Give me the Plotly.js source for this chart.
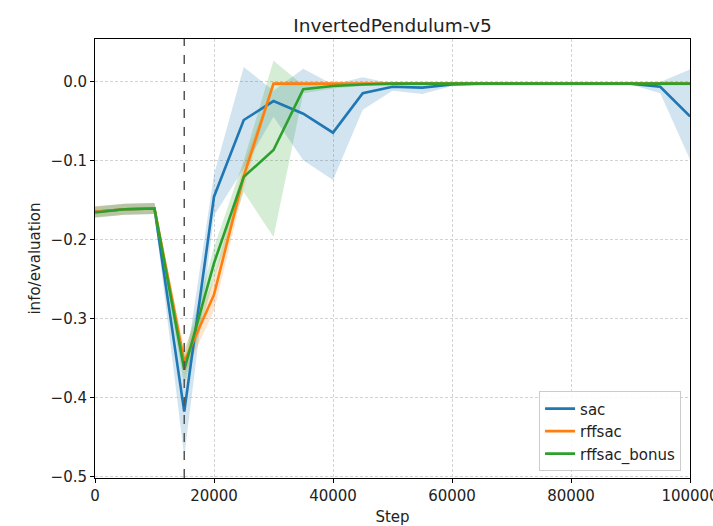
<!DOCTYPE html>
<html>
<head>
<meta charset="utf-8">
<script src="https://cdn.plot.ly/plotly-3.0.1.min.js"></script>
<style>html,body{margin:0;padding:0;background:#fff;}#chart{width:713px;height:526px;}</style>
</head>
<body>
<div id="chart"></div>
<script>
const steps = [0,5000,10000,15000,20000,25000,30000,35000,40000,45000,50000,55000,60000,65000,70000,75000,80000,85000,90000,95000,100000];
const seriesNames = ["sac","rffsac","rffsac_bonus"];
const colors = ["#1f77b4","#ff7f0e","#2ca02c"];
const markerStep = 15000;

const sacMean = [-0.165,-0.162,-0.161,-0.418,-0.146,-0.049,-0.025,-0.041,-0.065,-0.015,-0.007,-0.008,-0.004,-0.003,-0.003,-0.003,-0.003,-0.003,-0.003,-0.007,-0.0445];
const sacHi   = [-0.158,-0.155,-0.154,-0.370,-0.118,0.018,-0.012,0.016,-0.004,0.005,-0.003,-0.003,-0.002,-0.002,-0.002,-0.002,-0.002,-0.002,-0.002,-0.001,0.015];
const sacLo   = [-0.172,-0.169,-0.168,-0.475,-0.170,-0.110,-0.045,-0.100,-0.125,-0.036,-0.012,-0.016,-0.006,-0.004,-0.004,-0.004,-0.004,-0.004,-0.004,-0.015,-0.099];

const rffMean = [-0.165,-0.162,-0.161,-0.355,-0.270,-0.120,-0.003,-0.003,-0.003,-0.003,-0.003,-0.003,-0.003,-0.003,-0.003,-0.003,-0.003,-0.003,-0.003,-0.003,-0.003];
const rffHi   = [-0.158,-0.155,-0.154,-0.338,-0.250,-0.105,-0.001,-0.001,-0.001,-0.001,-0.001,-0.001,-0.001,-0.001,-0.001,-0.001,-0.001,-0.001,-0.001,-0.001,-0.001];
const rffLo   = [-0.172,-0.169,-0.168,-0.372,-0.290,-0.135,-0.005,-0.005,-0.005,-0.005,-0.005,-0.005,-0.005,-0.005,-0.005,-0.005,-0.005,-0.005,-0.005,-0.005,-0.005];

const bonMean = [-0.166,-0.162,-0.161,-0.365,-0.230,-0.121,-0.087,-0.010,-0.006,-0.004,-0.003,-0.003,-0.003,-0.003,-0.003,-0.003,-0.003,-0.003,-0.003,-0.003,-0.003];
const bonHi   = [-0.159,-0.155,-0.154,-0.345,-0.210,-0.100,0.026,-0.005,-0.003,-0.002,-0.001,-0.001,-0.001,-0.001,-0.001,-0.001,-0.001,-0.001,-0.001,-0.001,-0.001];
const bonLo   = [-0.173,-0.169,-0.168,-0.385,-0.250,-0.140,-0.197,-0.015,-0.009,-0.006,-0.005,-0.005,-0.005,-0.005,-0.005,-0.005,-0.005,-0.005,-0.005,-0.005,-0.005];

const yTicks = [-0.5,-0.4,-0.3,-0.2,-0.1,0.0];
const yTickText = ["\u22120.5","\u22120.4","\u22120.3","\u22120.2","\u22120.1","0.0"];
const xTicks = [0,20000,40000,60000,80000,100000];

const groups = [[sacMean,sacHi,sacLo],[rffMean,rffHi,rffLo],[bonMean,bonHi,bonLo]];
function rgba(hex,a){const r=parseInt(hex.slice(1,3),16),g=parseInt(hex.slice(3,5),16),b=parseInt(hex.slice(5,7),16);return `rgba(${r},${g},${b},${a})`;}

const traces = [];
groups.forEach((g,i)=>{
  traces.push({
    x: steps.concat(steps.slice().reverse()),
    y: g[1].concat(g[2].slice().reverse()),
    type:'scatter', mode:'lines', fill:'toself',
    fillcolor: rgba(colors[i],0.2), line:{width:0, color:'rgba(0,0,0,0)'},
    hoverinfo:'skip', showlegend:false
  });
});
groups.forEach((g,i)=>{
  traces.push({
    x: steps, y: g[0], type:'scatter', mode:'lines', name: seriesNames[i],
    line:{color: colors[i], width:2.6}
  });
});

const font = {family:'DejaVu Sans, sans-serif', size:15, color:'#222'};
const layout = {
  width:713, height:526,
  margin:{l:95, r:23, t:39, b:48},
  paper_bgcolor:'#fff', plot_bgcolor:'#fff',
  font: font,
  title:{text:'InvertedPendulum-v5', font:{family:'DejaVu Sans, sans-serif', size:18.5, color:'#222'}, x:0.5, xref:'paper', xanchor:'center', y:0.963, yref:'container'},
  xaxis:{
    range:[0,100000.5], tickvals:xTicks, ticktext:xTicks.map(String),
    ticklabeloverflow:'allow',
    showline:true, mirror:true, linecolor:'#000', linewidth:1,
    ticks:'outside', ticklen:4, tickcolor:'#000',
    showgrid:true, gridcolor:'#c8c8c8', griddash:'3px,2px', gridwidth:0.8,
    zeroline:false, tickfont:font,
    title:{text:'Step', font:font, standoff:7}
  },
  yaxis:{
    range:[-0.502,0.0535], tickvals:yTicks, ticktext:yTickText,
    showline:true, mirror:true, linecolor:'#000', linewidth:1,
    ticks:'outside', ticklen:4, tickcolor:'#000',
    showgrid:true, gridcolor:'#c8c8c8', griddash:'3px,2px', gridwidth:0.8,
    zeroline:false, tickfont:font,
    title:{text:'info/evaluation', font:font, standoff:6}
  },
  shapes:[{type:'line', xref:'x', yref:'paper', x0:markerStep, x1:markerStep, y0:0, y1:1,
    line:{color:'#555', width:1.5, dash:'dash'}}],
  legend:{x:0.985, y:0.015, xanchor:'right', yanchor:'bottom',
    bgcolor:'rgba(255,255,255,0.85)', bordercolor:'#cccccc', borderwidth:1,
    font:{family:'DejaVu Sans, sans-serif', size:15, color:'#222'}, tracegroupgap:0},
  showlegend:true
};
Plotly.newPlot('chart', traces, layout, {displayModeBar:false, staticPlot:true});
</script>
</body>
</html>
